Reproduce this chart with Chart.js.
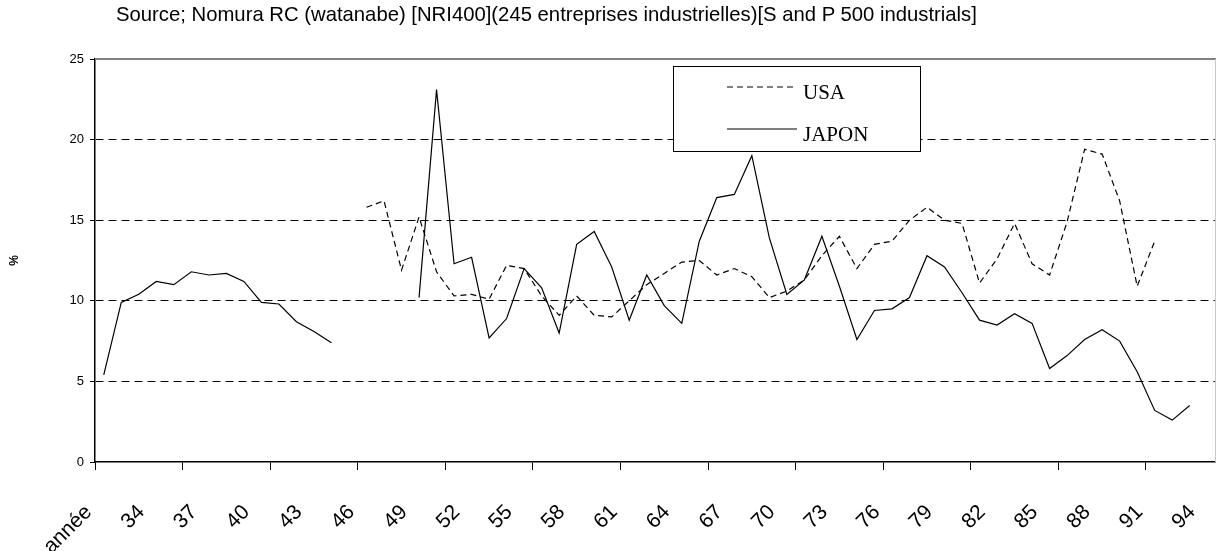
<!DOCTYPE html>
<html>
<head>
<meta charset="utf-8">
<script src="https://cdn.jsdelivr.net/npm/chart.js@4.4.0/dist/chart.umd.min.js"></script>
<style>
  html, body { margin: 0; padding: 0; background: #fff; }
  #wrap { position: relative; width: 1216px; height: 551px; }
  #source {
    position: absolute; left: 116px; top: 3px;
    font: 20.3px "Liberation Sans", Arial, sans-serif; color: #000; white-space: nowrap;
  }
</style>
</head>
<body>
<div id="wrap">
  <canvas id="chart" width="1216" height="551"></canvas>
  <div id="source">Source; Nomura RC (watanabe) [NRI400](245 entreprises industrielles)[S and P 500 industrials]</div>
</div>
<script>
// categories: 1931 is labelled "année"
const years = ['année', '32', '33', '34', '35', '36', '37', '38', '39', '40',
  '41', '42', '43', '44', '45', '46', '47', '48', '49', '50',
  '51', '52', '53', '54', '55', '56', '57', '58', '59', '60',
  '61', '62', '63', '64', '65', '66', '67', '68', '69', '70',
  '71', '72', '73', '74', '75', '76', '77', '78', '79', '80',
  '81', '82', '83', '84', '85', '86', '87', '88', '89', '90',
  '91', '92', '93', '94'];

const usa = [null, null, null, null, null, null, null, null, null, null,
  null, null, null, null, null, 15.8, 16.2, 11.9, 15.2, 11.8,
  10.3, 10.4, 10.1, 12.2, 12.0, 10.3, 9.1, 10.3, 9.1, 9.0,
  10.0, 11.0, 11.7, 12.4, 12.5, 11.6, 12.0, 11.5, 10.2, 10.6,
  11.3, 12.8, 14.0, 12.0, 13.5, 13.7, 15.0, 15.8, 15.0, 14.8,
  11.1, 12.6, 14.8, 12.3, 11.6, 14.9, 19.4, 19.1, 16.2, 10.9,
  13.7, null, null, null];

const japon = [5.4, 9.9, 10.4, 11.2, 11.0, 11.8, 11.6, 11.7, 11.2, 9.9,
  9.8, 8.7, 8.1, 7.4, null, null, null, null, 10.2, 23.1,
  12.3, 12.7, 7.7, 8.9, 12.0, 10.8, 8.0, 13.5, 14.3, 12.1,
  8.8, 11.6, 9.7, 8.6, 13.7, 16.4, 16.6, 19.0, 13.9, 10.4,
  11.3, 14.0, 10.9, 7.6, 9.4, 9.5, 10.2, 12.8, 12.1, 10.5,
  8.8, 8.5, 9.2, 8.6, 5.8, 6.6, 7.6, 8.2, 7.5, 5.6,
  3.2, 2.6, 3.5, null];

const yTicks = [0, 5, 10, 15, 20, 25];

// grey frame on top and right of the plot area
const frame = {
    id: 'frame',
    beforeDatasetsDraw(chart) {
        const { ctx, chartArea: a } = chart;
        ctx.save();
        ctx.strokeStyle = '#808080';
        ctx.lineWidth = 2;
        ctx.beginPath();
        ctx.moveTo(a.left, a.top);
        ctx.lineTo(a.right, a.top);
        ctx.stroke();
        ctx.lineWidth = 1;
        ctx.strokeStyle = '#c8c8c8';
        ctx.beginPath();
        ctx.moveTo(a.right - 0.5, a.top);
        ctx.lineTo(a.right - 0.5, a.bottom);
        ctx.stroke();
        ctx.restore();
    }
};

// boxed legend inside the plot, like the original spreadsheet chart
const boxLegend = {
    id: 'boxLegend',
    afterDraw(chart) {
        const ctx = chart.ctx;
        const box = { x: 673.5, y: 66.5, w: 247, h: 85 };
        ctx.save();
        ctx.fillStyle = '#fff';
        ctx.fillRect(box.x, box.y, box.w, box.h);
        ctx.strokeStyle = '#000';
        ctx.lineWidth = 1;
        ctx.strokeRect(box.x, box.y, box.w, box.h);
        ctx.font = '21px "Liberation Serif", "Times New Roman", serif';
        ctx.fillStyle = '#000';
        ctx.textBaseline = 'alphabetic';
        chart.data.datasets.forEach((ds, i) => {
            const y = 87 + i * 42;
            ctx.strokeStyle = ds.borderColor;
            ctx.lineWidth = ds.borderWidth;
            ctx.setLineDash(ds.borderDash || []);
            ctx.beginPath();
            ctx.moveTo(727, y);
            ctx.lineTo(797, y);
            ctx.stroke();
            ctx.setLineDash([]);
            ctx.fillText(ds.label, 803, y + 12);
        });
        ctx.restore();
    }
};

new Chart(document.getElementById('chart'), {
    type: 'line',
    data: {
        labels: years,
        datasets: [
            { label: 'USA', data: usa, borderColor: '#000', borderWidth: 1.2, borderDash: [6, 4],
              pointRadius: 0, tension: 0, spanGaps: false },
            { label: 'JAPON', data: japon, borderColor: '#000', borderWidth: 1.2,
              pointRadius: 0, tension: 0, spanGaps: false }
        ]
    },
    options: {
        responsive: false,
        animation: false,
        devicePixelRatio: 1,
        layout: { padding: { top: 59, right: 0, bottom: 0, left: 0 } },
        plugins: { legend: { display: false }, tooltip: { enabled: false } },
        scales: {
            x: {
                offset: true,
                grid: {
                    offset: true,
                    drawOnChartArea: false,
                    tickLength: 8,
                    color: c => (c.index % 5 === 0 ? '#000' : 'rgba(0,0,0,0)')
                },
                border: { color: '#000', width: 1.5 },
                ticks: {
                    autoSkip: false,
                    minRotation: 45,
                    maxRotation: 45,
                    labelOffset: -15,
                    padding: 30,
                    color: '#000',
                    font: { family: '"Liberation Sans", Arial, sans-serif', size: 21 },
                    callback: (v, i) => (i % 3 === 0 ? years[i] : '')
                },
                afterFit: s => {
                    s.height = 89;
                    s.paddingLeft = 0;
                    s.paddingRight = 0;
                }
            },
            y: {
                min: 0,
                max: 25,
                afterBuildTicks: s => { s.ticks = yTicks.map(v => ({ value: v })); },
                ticks: {
                    color: '#000',
                    padding: 6,
                    font: { family: '"Liberation Sans", Arial, sans-serif', size: 13 }
                },
                grid: {
                    color: c => (c.tick && (c.tick.value === 0 || c.tick.value === 25) ? 'rgba(0,0,0,0)' : '#000'),
                    tickColor: '#000',
                    tickLength: 5,
                    lineWidth: 1
                },
                border: { color: '#000', width: 1.5, dash: [8, 5] },
                title: {
                    display: true,
                    text: '%',
                    color: '#000',
                    padding: { top: 7, bottom: 0 },
                    font: { family: '"Liberation Sans", Arial, sans-serif', size: 12, weight: 'bold' }
                },
                afterFit: s => { s.width = 95; }
            }
        }
    },
    plugins: [frame, boxLegend]
});
</script>
</body>
</html>
